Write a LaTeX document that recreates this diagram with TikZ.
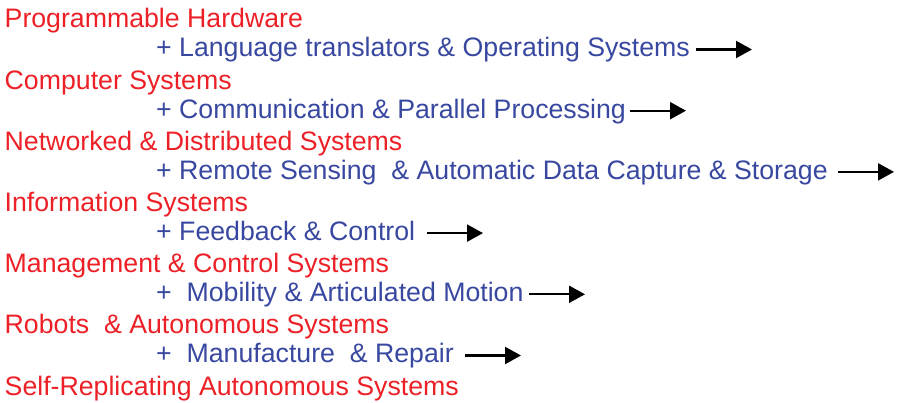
\documentclass[tikz,border=0pt]{standalone}
\usepackage{fontspec}
\setmainfont{Liberation Sans}
\usepackage{tikz}
\usetikzlibrary{arrows.meta,positioning}
\definecolor{stagered}{RGB}{236,32,38}
\definecolor{stepblue}{RGB}{56,72,160}
\newcommand\Gap{61.2}
\tikzset{
  stage/.style={
    anchor = base west,
    inner sep = 0pt,
    text = stagered,
    font = \fontsize{26.7}{30}\selectfont
  },
  addon/.style={
    anchor = base west,
    inner sep = 0pt,
    text = stepblue,
    font = \fontsize{26.7}{30}\selectfont
  },
  flow/.style={
    line width = 2.2pt,
    -{Triangle[length=16pt,width=17pt]}
  }
}
\begin{document}
\begin{tikzpicture}[x=1pt,y=-1pt]
        \useasboundingbox (0,0) rectangle (898,403);

        \node[stage] (s1) at (4.5,28) {Programmable Hardware};
        \node[addon] (p1) at (156,28+29) {+ Language translators \& Operating Systems};
        \node[stage] (s2) at (4.5,28+\Gap) {Computer Systems};
        \node[addon] (p2) at (156,28+\Gap+29) {+ Communication \& Parallel Processing};
        \node[stage] (s3) at (4.5,28+2*\Gap) {Networked \& Distributed Systems};
        \node[addon] (p3) at (156,28+2*\Gap+29) {+ Remote Sensing\ \ \& Automatic Data Capture \& Storage};
        \node[stage] (s4) at (4.5,28+3*\Gap) {Information Systems};
        \node[addon] (p4) at (156,28+3*\Gap+29) {+ Feedback \& Control};
        \node[stage] (s5) at (4.5,28+4*\Gap) {Management \& Control Systems};
        \node[addon] (p5) at (156,28+4*\Gap+29) {+\ \ Mobility \& Articulated Motion};
        \node[stage] (s6) at (4.5,28+5*\Gap) {Robots\ \ \& Autonomous Systems};
        \node[addon] (p6) at (156,28+5*\Gap+29) {+\ \ Manufacture\ \ \& Repair};
        \node[stage] (s7) at (4.5,28+6*\Gap) {Self-Replicating Autonomous Systems};

        % arrows after each addition
        \coordinate (a1) at (696,28+29-7.5);
        \coordinate (a2) at (630,28+\Gap+29-7.5);
        \coordinate (a3) at (838,28+2*\Gap+29-7.5);
        \coordinate (a4) at (427,28+3*\Gap+29-7.5);
        \coordinate (a5) at (529,28+4*\Gap+29-7.5);
        \coordinate (a6) at (465,28+5*\Gap+29-7.5);

        \draw[flow] (a1) --++ (56,0);
        \draw[flow] (a2) --++ (56,0);
        \draw[flow] (a3) --++ (56,0);
        \draw[flow] (a4) --++ (56,0);
        \draw[flow] (a5) --++ (56,0);
        \draw[flow] (a6) --++ (56,0);
\end{tikzpicture}
\end{document}
